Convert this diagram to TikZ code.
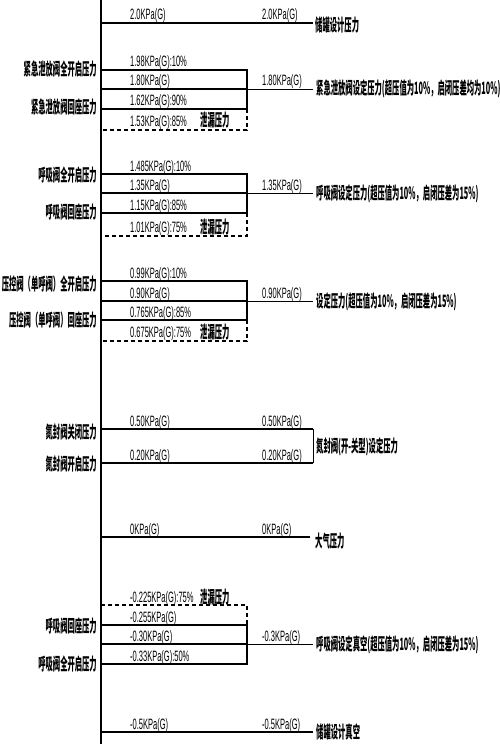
\documentclass[tikz,border=0pt]{standalone}
\usepackage{fontspec}
\usepackage{graphicx}
\newfontfamily\cjkfont{Noto Sans CJK SC}
\newfontfamily\valfont{Liberation Sans}
\newcommand\cjklab[1]{\scalebox{0.43}[1]{\cjkfont\bfseries\fontsize{17}{20}\selectfont #1}}
\newcommand\vallab[1]{\scalebox{0.5}[1]{\valfont\fontsize{15}{17}\selectfont #1}}
\begin{document}
\begin{tikzpicture}[x=1pt,y=-1pt,
  boxline/.style={line width=1.6pt},
  extline/.style={line width=0.9pt},
  leakline/.style={line width=1.2pt, dash pattern=on 4pt off 3pt},
  axisline/.style={line width=1.8pt},
  vlab/.style={anchor=base west, inner sep=0pt},
  rlab/.style={anchor=west, inner sep=0pt},
  llab/.style={anchor=east, inner sep=0pt}]
\useasboundingbox (0,0) rectangle (500,749);
\fill[white] (0,0) rectangle (500,749);
% axis
\coordinate (axtop) at (101,0);
\coordinate (axbot) at (101,744);
\draw[axisline] (axtop) -- (axbot);

% top: design pressure
\draw[boxline] (101,23) -- (313,23);
\node[vlab] (t1) at (130,20) {\vallab{2.0KPa(G)}};
\node[vlab] (t2) at (262,20) {\vallab{2.0KPa(G)}};
\node[rlab] (t3) at (315,25) {\cjklab{储罐设计压力}};

% group 1: emergency relief valve
\draw[boxline] (101,70) -- (247,70) -- (247,109);
\draw[boxline] (101,89) -- (247,89);
\draw[extline] (247,89) -- (313,89);
\draw[boxline] (101,109) -- (247,109);
\draw[leakline] (247,109) -- (247,130) -- (101,130);
\node[vlab] (a1) at (130,67) {\vallab{1.98KPa(G):10\%}};
\node[vlab] (a2) at (130,86) {\vallab{1.80KPa(G)}};
\node[vlab] (a3) at (130,106) {\vallab{1.62KPa(G):90\%}};
\node[vlab] (a4) at (130,127) {\vallab{1.53KPa(G):85\%}};
\node[vlab] (a5) at (200,127) {\cjklab{泄漏压力}};
\node[vlab] (a6) at (262,86) {\vallab{1.80KPa(G)}};
\node[rlab] (a7) at (316,89) {\cjklab{紧急泄放阀设定压力(超压值为10\%，启闭压差均为10\%)}};
\node[llab] (a8) at (97,69) {\cjklab{紧急泄放阀全开启压力}};
\node[llab] (a9) at (97,107) {\cjklab{紧急泄放阀回座压力}};

% group 2: breather valve pressure
\draw[boxline] (101,174) -- (247,174) -- (247,213);
\draw[boxline] (101,193) -- (247,193);
\draw[extline] (247,193) -- (313,193);
\draw[boxline] (101,213) -- (247,213);
\draw[leakline] (247,213) -- (247,236) -- (101,236);
\node[vlab] (b1) at (130,171) {\vallab{1.485KPa(G):10\%}};
\node[vlab] (b2) at (130,190) {\vallab{1.35KPa(G)}};
\node[vlab] (b3) at (130,210) {\vallab{1.15KPa(G):85\%}};
\node[vlab] (b4) at (130,232) {\vallab{1.01KPa(G):75\%}};
\node[vlab] (b5) at (200,233) {\cjklab{泄漏压力}};
\node[vlab] (b6) at (262,190) {\vallab{1.35KPa(G)}};
\node[rlab] (b7) at (316,194) {\cjklab{呼吸阀设定压力(超压值为10\%，启闭压差为15\%)}};
\node[llab] (b8) at (97,175) {\cjklab{呼吸阀全开启压力}};
\node[llab] (b9) at (97,212) {\cjklab{呼吸阀回座压力}};

% group 3: pressure control valve
\draw[boxline] (101,281) -- (247,281) -- (247,320);
\draw[boxline] (101,301) -- (247,301);
\draw[extline] (247,301) -- (313,301);
\draw[boxline] (101,320) -- (247,320);
\draw[leakline] (247,320) -- (247,341) -- (101,341);
\node[vlab] (c1) at (130,278) {\vallab{0.99KPa(G):10\%}};
\node[vlab] (c2) at (130,298) {\vallab{0.90KPa(G)}};
\node[vlab] (c3) at (130,317) {\vallab{0.765KPa(G):85\%}};
\node[vlab] (c4) at (130,337) {\vallab{0.675KPa(G):75\%}};
\node[vlab] (c5) at (200,338) {\cjklab{泄漏压力}};
\node[vlab] (c6) at (262,298) {\vallab{0.90KPa(G)}};
\node[rlab] (c7) at (316,302) {\cjklab{设定压力(超压值为10\%，启闭压差为15\%)}};
\node[llab] (c8) at (97,284) {\cjklab{压控阀（单呼阀）全开启压力}};
\node[llab] (c9) at (97,320) {\cjklab{压控阀（单呼阀）回座压力}};

% group 4: nitrogen seal valve
\draw[boxline] (101,429) -- (313,429);
\draw[boxline] (101,463) -- (313,463);
\draw[extline] (313,429) -- (313,463);
\node[vlab] (d1) at (130,426) {\vallab{0.50KPa(G)}};
\node[vlab] (d2) at (262,426) {\vallab{0.50KPa(G)}};
\node[vlab] (d3) at (130,460) {\vallab{0.20KPa(G)}};
\node[vlab] (d4) at (262,460) {\vallab{0.20KPa(G)}};
\node[rlab] (d5) at (316,447) {\cjklab{氮封阀(开-关型)设定压力}};
\node[llab] (d6) at (97,432) {\cjklab{氮封阀关闭压力}};
\node[llab] (d7) at (97,464) {\cjklab{氮封阀开启压力}};

% atmospheric
\draw[boxline] (101,537) -- (310,537);
\node[vlab] (e1) at (130,534) {\vallab{0KPa(G)}};
\node[vlab] (e2) at (262,534) {\vallab{0KPa(G)}};
\node[rlab] (e3) at (315,541) {\cjklab{大气压力}};

% group 5: breather valve vacuum
\draw[leakline] (101,605) -- (247,605) -- (247,625);
\draw[boxline] (101,625) -- (247,625) -- (247,664) -- (101,664);
\draw[boxline] (101,644) -- (247,644);
\draw[extline] (247,644) -- (313,644);
\node[vlab] (f1) at (130,602) {\vallab{-0.225KPa(G):75\%}};
\node[vlab] (f2) at (200,603) {\cjklab{泄漏压力}};
\node[vlab] (f3) at (130,622) {\vallab{-0.255KPa(G)}};
\node[vlab] (f4) at (130,641) {\vallab{-0.30KPa(G)}};
\node[vlab] (f5) at (130,661) {\vallab{-0.33KPa(G):50\%}};
\node[vlab] (f6) at (262,641) {\vallab{-0.3KPa(G)}};
\node[rlab] (f7) at (316,645) {\cjklab{呼吸阀设定真空(超压值为10\%，启闭压差为15\%)}};
\node[llab] (f8) at (97,626) {\cjklab{呼吸阀回座压力}};
\node[llab] (f9) at (97,664) {\cjklab{呼吸阀全开启压力}};

% bottom: design vacuum
\draw[boxline] (101,732) -- (313,732);
\node[vlab] (g1) at (130,729) {\vallab{-0.5KPa(G)}};
\node[vlab] (g2) at (262,729) {\vallab{-0.5KPa(G)}};
\node[rlab] (g3) at (316,732) {\cjklab{储罐设计真空}};
\end{tikzpicture}
\end{document}
